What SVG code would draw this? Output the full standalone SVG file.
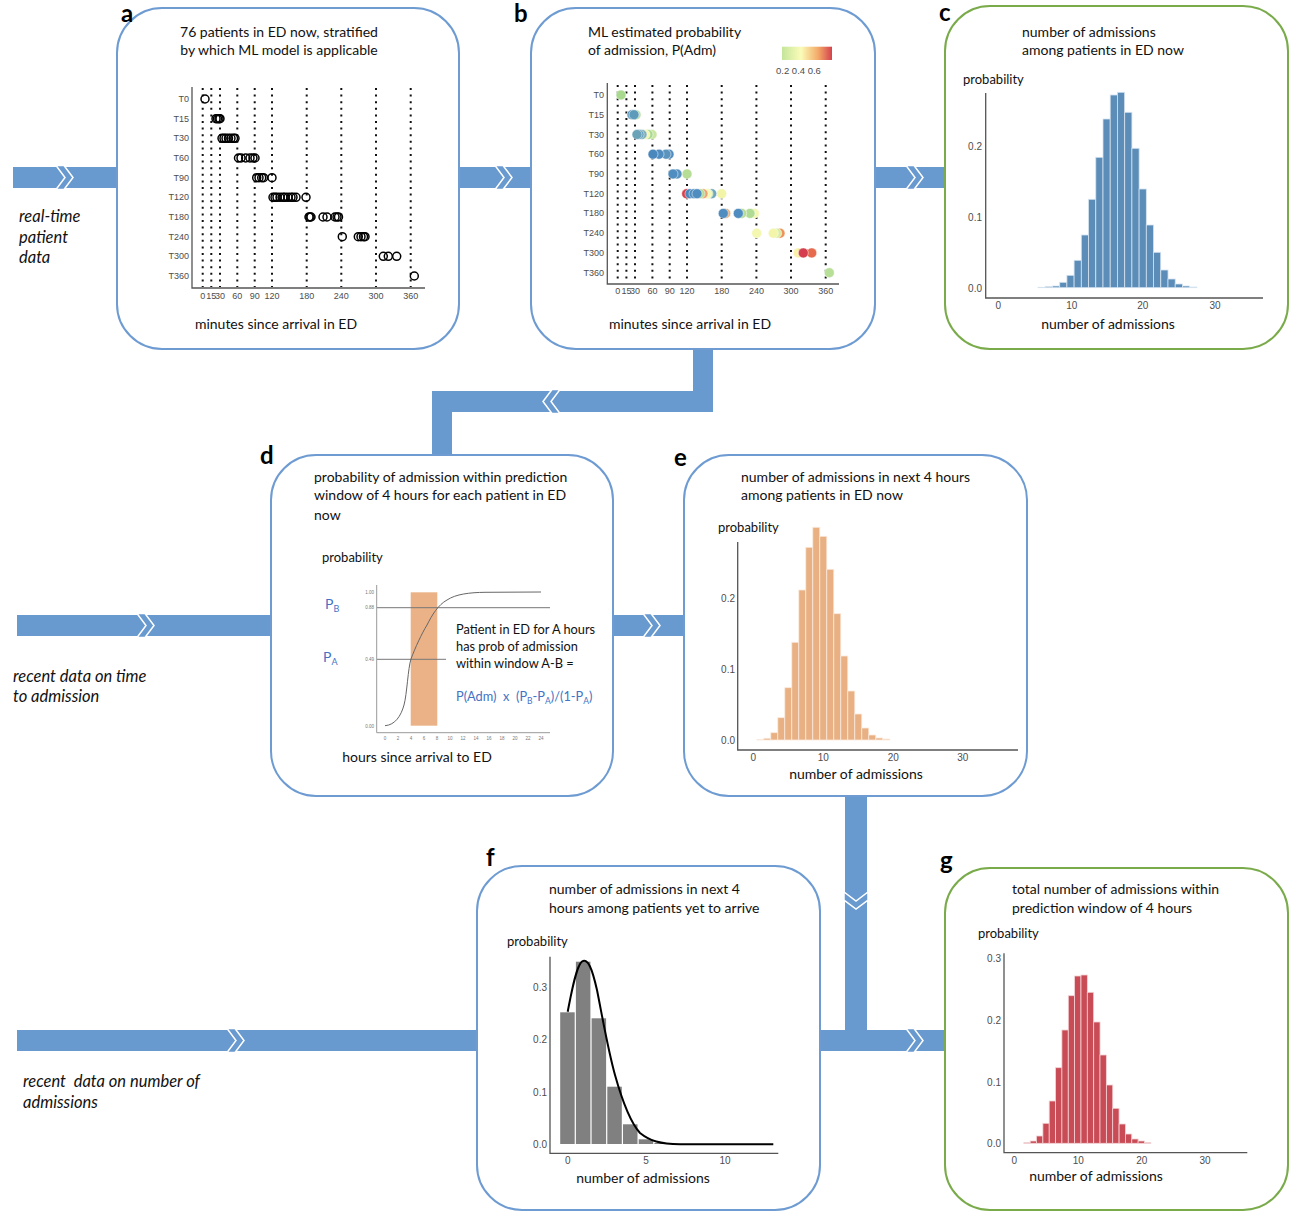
<svg xmlns="http://www.w3.org/2000/svg" xmlns:xlink="http://www.w3.org/1999/xlink" width="1308" height="1228" viewBox="0 0 1308 1228">
<style>
.panel{fill:#fff;stroke:#6d9bd2;stroke-width:2}
.pg{fill:#fff;stroke:#7aab4b;stroke-width:2}
.band{fill:#6899cf}
.chev{fill:#6899cf;stroke:#fff;stroke-width:1.5}
.t{font-family:Lato,"Liberation Sans",sans-serif;font-size:14px;fill:#111}
.p13{font-size:13px}
.f12{font-size:12.8px}
.it{font-family:Lato,"Liberation Sans",sans-serif;font-size:16.5px;font-style:italic;fill:#111}
.lbl{font-family:Lato,"Liberation Sans",sans-serif;font-size:24px;font-weight:bold;fill:#000}
.tk{font-family:"Liberation Sans",Arial,sans-serif;font-size:9px;fill:#4d4d4d}
.tk10{font-family:"Liberation Sans",Arial,sans-serif;font-size:10px;fill:#4d4d4d}
.tiny{font-family:"Liberation Sans",Arial,sans-serif;font-size:4.5px;fill:#777}
.ax{stroke:#555;stroke-width:1.3;fill:none}
.vd{stroke:#111;stroke-width:2;stroke-dasharray:2 4.6}
.oc{fill:none;stroke:#000;stroke-width:1.5}
.blue{fill:#4472c4}
.cb{fill:#5b8db8;stroke:#d5e3ef;stroke-width:0.8}
.eb{fill:#e8b083;stroke:#fbe9dc;stroke-width:0.8}
.gb{fill:#c84b55;stroke:#f3d3d6;stroke-width:0.8}
.fb{fill:#808080}
</style>
<defs>
<path id="chev" d="M-9,-12 L-1,-12 L8,0 L-1,12 L-9,12 L0,0 Z"/>
<linearGradient id="leg" x1="0" y1="0" x2="1" y2="0">
<stop offset="0" stop-color="#c4e59b"/>
<stop offset="0.38" stop-color="#fafcb8"/>
<stop offset="0.72" stop-color="#f4aa68"/>
<stop offset="1" stop-color="#d4424e"/>
</linearGradient>
</defs>

<g id="connectors">
<rect class="band" x="13" y="167" width="106" height="21"/>
<rect class="band" x="458" y="167" width="75" height="21"/>
<rect class="band" x="874" y="167" width="73" height="21"/>
<rect class="band" x="693" y="347" width="20" height="65"/>
<rect class="band" x="432" y="391" width="281" height="21"/>
<rect class="band" x="432" y="391" width="20" height="66"/>
<rect class="band" x="17" y="615" width="256" height="21"/>
<rect class="band" x="612" y="615" width="74" height="21"/>
<rect class="band" x="845" y="794" width="22" height="257"/>
<rect class="band" x="17" y="1030" width="462" height="21"/>
<rect class="band" x="818" y="1030" width="129" height="21"/>
<use xlink:href="#chev" class="chev" transform="translate(65,177.5)"/>
<use xlink:href="#chev" class="chev" transform="translate(504,177.5)"/>
<use xlink:href="#chev" class="chev" transform="translate(915,177.5)"/>
<use xlink:href="#chev" class="chev" transform="translate(551,401.5) rotate(180)"/>
<use xlink:href="#chev" class="chev" transform="translate(146,625.5)"/>
<use xlink:href="#chev" class="chev" transform="translate(652,625.5)"/>
<use xlink:href="#chev" class="chev" transform="translate(856,901) rotate(90)"/>
<use xlink:href="#chev" class="chev" transform="translate(236,1040.5)"/>
<use xlink:href="#chev" class="chev" transform="translate(915,1040.5)"/>
</g>

<g id="inputs">
<text class="it" x="19" y="222">real-time</text>
<text class="it" x="19" y="243">patient</text>
<text class="it" x="19" y="263">data</text>
<text class="it" x="13" y="682">recent data on time</text>
<text class="it" x="13" y="702">to admission</text>
<text class="it" x="23" y="1087" xml:space="preserve">recent  data on number of</text>
<text class="it" x="23" y="1108">admissions</text>
</g>

<!-- Panel a -->
<g id="panel-a">
<rect class="panel" x="117" y="8" width="342" height="341" rx="45"/>
<text class="lbl" x="121" y="22">a</text>
<text class="t" x="279" y="37" text-anchor="middle">76 patients in ED now, stratified</text>
<text class="t" x="279" y="55" text-anchor="middle">by which ML model is applicable</text>
<g>
<line class="vd" x1="202.7" y1="88" x2="202.7" y2="287"/>
<line class="vd" x1="211.3" y1="88" x2="211.3" y2="287"/>
<line class="vd" x1="220" y1="88" x2="220" y2="287"/>
<line class="vd" x1="237.3" y1="88" x2="237.3" y2="287"/>
<line class="vd" x1="254.7" y1="88" x2="254.7" y2="287"/>
<line class="vd" x1="272" y1="88" x2="272" y2="287"/>
<line class="vd" x1="306.7" y1="88" x2="306.7" y2="287"/>
<line class="vd" x1="341.3" y1="88" x2="341.3" y2="287"/>
<line class="vd" x1="376" y1="88" x2="376" y2="287"/>
<line class="vd" x1="410.7" y1="88" x2="410.7" y2="287"/>
</g>
<path class="ax" d="M192,87 V288 H425"/>
<g class="tk" text-anchor="end">
<text x="189" y="102">T0</text><text x="189" y="121.7">T15</text><text x="189" y="141.3">T30</text><text x="189" y="161">T60</text><text x="189" y="180.7">T90</text><text x="189" y="200.3">T120</text><text x="189" y="220">T180</text><text x="189" y="239.7">T240</text><text x="189" y="259.3">T300</text><text x="189" y="279">T360</text>
</g>
<g class="tk" text-anchor="middle">
<text x="202.7" y="298.5">0</text><text x="211.3" y="298.5">15</text><text x="220" y="298.5">30</text><text x="237.3" y="298.5">60</text><text x="254.7" y="298.5">90</text><text x="272" y="298.5">120</text><text x="306.7" y="298.5">180</text><text x="341.3" y="298.5">240</text><text x="376" y="298.5">300</text><text x="410.7" y="298.5">360</text>
</g>
<g class="oc">
<circle cx="205" cy="99" r="4"/>
<circle cx="216" cy="118.7" r="4"/><circle cx="217.5" cy="118.7" r="4"/><circle cx="219" cy="118.7" r="4"/><circle cx="220" cy="118.7" r="4"/>
<circle cx="222" cy="138.3" r="4"/><circle cx="224" cy="138.3" r="4"/><circle cx="226" cy="138.3" r="4"/><circle cx="228.5" cy="138.3" r="4"/><circle cx="231" cy="138.3" r="4"/><circle cx="233.5" cy="138.3" r="4"/><circle cx="235" cy="138.3" r="4"/>
<circle cx="238.5" cy="158" r="4"/><circle cx="241" cy="158" r="4"/><circle cx="245.7" cy="158" r="4"/><circle cx="250" cy="158" r="4"/><circle cx="253" cy="158" r="4"/><circle cx="255" cy="158" r="4"/>
<circle cx="256.7" cy="177.7" r="4"/><circle cx="259" cy="177.7" r="4"/><circle cx="261.7" cy="177.7" r="4"/><circle cx="263.5" cy="177.7" r="4"/><circle cx="272" cy="177.7" r="4"/>
<circle cx="273" cy="197.3" r="4"/><circle cx="275" cy="197.3" r="4"/><circle cx="277" cy="197.3" r="4"/><circle cx="280" cy="197.3" r="4"/><circle cx="283" cy="197.3" r="4"/><circle cx="285" cy="197.3" r="4"/><circle cx="288" cy="197.3" r="4"/><circle cx="291" cy="197.3" r="4"/><circle cx="293" cy="197.3" r="4"/><circle cx="296" cy="197.3" r="4"/><circle cx="306" cy="197.3" r="4"/>
<circle cx="309" cy="217" r="4"/><circle cx="310" cy="217" r="4"/><circle cx="311" cy="217" r="4"/><circle cx="323" cy="217" r="4"/><circle cx="327" cy="217" r="4"/><circle cx="335" cy="217" r="4"/><circle cx="337" cy="217" r="4"/><circle cx="338.5" cy="217" r="4"/>
<circle cx="342.3" cy="236.7" r="4"/><circle cx="358.3" cy="236.7" r="4"/><circle cx="361" cy="236.7" r="4"/><circle cx="363.5" cy="236.7" r="4"/><circle cx="365" cy="236.7" r="4"/>
<circle cx="383.3" cy="256.3" r="4"/><circle cx="388.3" cy="256.3" r="4"/><circle cx="396.7" cy="256.3" r="4"/>
<circle cx="414.3" cy="276" r="4"/>
</g>
<text class="t" x="276" y="329" text-anchor="middle">minutes since arrival in ED</text>
</g>

<!-- Panel b -->
<g id="panel-b">
<rect class="panel" x="531" y="8" width="344" height="341" rx="45"/>
<text class="lbl" x="514" y="22">b</text>
<text class="t" x="588" y="37">ML estimated probability</text>
<text class="t" x="588" y="55">of admission, P(Adm)</text>
<rect x="782" y="46.7" width="50" height="13.3" fill="url(#leg)"/>
<text class="tk" x="776" y="74" style="font-size:9.5px">0.2 0.4 0.6</text>
<g>
<line class="vd" x1="617.7" y1="85" x2="617.7" y2="283"/>
<line class="vd" x1="626.4" y1="85" x2="626.4" y2="283"/>
<line class="vd" x1="635" y1="85" x2="635" y2="283"/>
<line class="vd" x1="652.4" y1="85" x2="652.4" y2="283"/>
<line class="vd" x1="669.7" y1="85" x2="669.7" y2="283"/>
<line class="vd" x1="687" y1="85" x2="687" y2="283"/>
<line class="vd" x1="721.7" y1="85" x2="721.7" y2="283"/>
<line class="vd" x1="756.4" y1="85" x2="756.4" y2="283"/>
<line class="vd" x1="791" y1="85" x2="791" y2="283"/>
<line class="vd" x1="825.7" y1="85" x2="825.7" y2="283"/>
</g>
<path class="ax" d="M607.3,83 V284 H839"/>
<g class="tk" text-anchor="end">
<text x="604" y="98">T0</text><text x="604" y="117.7">T15</text><text x="604" y="137.5">T30</text><text x="604" y="157.2">T60</text><text x="604" y="177">T90</text><text x="604" y="196.7">T120</text><text x="604" y="216.4">T180</text><text x="604" y="236.2">T240</text><text x="604" y="255.9">T300</text><text x="604" y="275.7">T360</text>
</g>
<g class="tk" text-anchor="middle">
<text x="617.7" y="293.5">0</text><text x="626.4" y="293.5">15</text><text x="635" y="293.5">30</text><text x="652.4" y="293.5">60</text><text x="669.7" y="293.5">90</text><text x="687" y="293.5">120</text><text x="721.7" y="293.5">180</text><text x="756.4" y="293.5">240</text><text x="791" y="293.5">300</text><text x="825.7" y="293.5">360</text>
</g>
<g stroke="#fff" stroke-width="0.5">
<circle cx="621" cy="95" r="5" fill="#a9d98f"/>
<circle cx="636" cy="114.7" r="5" fill="#b8dfa0"/><circle cx="632" cy="114.7" r="5" fill="#5b97bb"/><circle cx="634" cy="114.7" r="5" fill="#5e9bbb"/>
<circle cx="652" cy="134.5" r="5" fill="#c8e6a0"/><circle cx="648" cy="134.5" r="5" fill="#a9d98f"/><circle cx="645" cy="134.5" r="5" fill="#f4f7b0"/><circle cx="642" cy="134.5" r="5" fill="#7fb0b9"/><circle cx="639" cy="134.5" r="5" fill="#5f9bbb"/><circle cx="637" cy="134.5" r="5" fill="#6aa3b8"/>
<circle cx="669" cy="154.2" r="5" fill="#4f8cbf"/><circle cx="666" cy="154.2" r="5" fill="#5b95bd"/><circle cx="659" cy="154.2" r="5" fill="#4f8cbf"/><circle cx="653" cy="154.2" r="5" fill="#4a87bd"/>
<circle cx="687" cy="174" r="5" fill="#b5dd95"/><circle cx="677" cy="174" r="5" fill="#5590bf"/><circle cx="673" cy="174" r="5" fill="#4f8cbf"/>
<circle cx="721.7" cy="193.7" r="5" fill="#f2f5a8"/><circle cx="711.7" cy="193.7" r="5" fill="#6fa7bd"/><circle cx="708" cy="193.7" r="5" fill="#c9e6a5"/><circle cx="706.7" cy="193.7" r="5" fill="#f8f8b5"/><circle cx="703" cy="193.7" r="5" fill="#f0a070"/><circle cx="700" cy="193.7" r="5" fill="#b4dc95"/><circle cx="686.7" cy="193.7" r="5" fill="#d7404c"/><circle cx="690" cy="193.7" r="5" fill="#4a87bd"/><circle cx="694" cy="193.7" r="5" fill="#4f8cbf"/><circle cx="697" cy="193.7" r="5" fill="#4f8cbf"/>
<circle cx="754.3" cy="213.4" r="5" fill="#f4f7b0"/><circle cx="750" cy="213.4" r="5" fill="#b0db92"/><circle cx="741.7" cy="213.4" r="5" fill="#b7dd98"/><circle cx="738.3" cy="213.4" r="5" fill="#4f8cbf"/><circle cx="725.7" cy="213.4" r="5" fill="#e9b07a"/><circle cx="723.3" cy="213.4" r="5" fill="#4f8cbf"/>
<circle cx="780" cy="233.2" r="5" fill="#ef9157"/><circle cx="776.7" cy="233.2" r="5" fill="#d9eca5"/><circle cx="773.3" cy="233.2" r="5" fill="#f2f5aa"/><circle cx="756.7" cy="233.2" r="5" fill="#f3f7b0"/>
<circle cx="811.7" cy="252.9" r="5" fill="#e66a4d"/><circle cx="798.3" cy="252.9" r="5" fill="#f8f3a8"/><circle cx="803.3" cy="252.9" r="5" fill="#d53e4f"/>
<circle cx="829.3" cy="272.7" r="5" fill="#b8df98"/>
</g>
<text class="t" x="690" y="329" text-anchor="middle">minutes since arrival in ED</text>
</g>

<!-- Panel c -->
<g id="panel-c">
<rect class="pg" x="945" y="6" width="343" height="343" rx="45"/>
<text class="lbl" x="939" y="21">c</text>
<text class="t" x="1022" y="37">number of admissions</text>
<text class="t" x="1022" y="55">among patients in ED now</text>
<text class="t p13" x="963" y="84">probability</text>
<g>
<rect class="cb" x="1038.0" y="287.3" width="7.22" height="0.4"/>
<rect class="cb" x="1045.2" y="286.7" width="7.22" height="1"/>
<rect class="cb" x="1052.4" y="286" width="7.22" height="1.7"/>
<rect class="cb" x="1059.7" y="282.3" width="7.22" height="5.4"/>
<rect class="cb" x="1066.9" y="275.3" width="7.22" height="12.4"/>
<rect class="cb" x="1074.1" y="260.3" width="7.22" height="27.4"/>
<rect class="cb" x="1081.3" y="235" width="7.22" height="52.7"/>
<rect class="cb" x="1088.5" y="199.3" width="7.22" height="88.4"/>
<rect class="cb" x="1095.8" y="157.3" width="7.22" height="130.4"/>
<rect class="cb" x="1103.0" y="119" width="7.22" height="168.7"/>
<rect class="cb" x="1110.2" y="95" width="7.22" height="192.7"/>
<rect class="cb" x="1117.4" y="92.3" width="7.22" height="195.4"/>
<rect class="cb" x="1124.7" y="112.3" width="7.22" height="175.4"/>
<rect class="cb" x="1131.9" y="148.3" width="7.22" height="139.4"/>
<rect class="cb" x="1139.1" y="189" width="7.22" height="98.7"/>
<rect class="cb" x="1146.3" y="225" width="7.22" height="62.7"/>
<rect class="cb" x="1153.5" y="252.3" width="7.22" height="35.4"/>
<rect class="cb" x="1160.8" y="270" width="7.22" height="17.7"/>
<rect class="cb" x="1168.0" y="279" width="7.22" height="8.7"/>
<rect class="cb" x="1175.2" y="284" width="7.22" height="3.7"/>
<rect class="cb" x="1182.4" y="286" width="7.22" height="1.7"/>
<rect class="cb" x="1189.6" y="287" width="7.22" height="0.7"/>
</g>
<path class="ax" d="M985.7,93 V298 H1263"/>
<g class="tk10" text-anchor="end">
<text x="982" y="150">0.2</text><text x="982" y="220.5">0.1</text><text x="982" y="291.5">0.0</text>
</g>
<g class="tk10" text-anchor="middle">
<text x="998.3" y="309">0</text><text x="1071.7" y="309">10</text><text x="1142.7" y="309">20</text><text x="1215" y="309">30</text>
</g>
<text class="t" x="1108" y="329" text-anchor="middle">number of admissions</text>
</g>

<!-- Panel d -->
<g id="panel-d">
<rect class="panel" x="271" y="455" width="342" height="341" rx="45"/>
<text class="lbl" x="260" y="464">d</text>
<text class="t" x="314" y="482">probability of admission within prediction</text>
<text class="t" x="314" y="500">window of 4 hours for each patient in ED</text>
<text class="t" x="314" y="520">now</text>
<text class="t p13" x="322" y="562">probability</text>
<rect x="410.7" y="592.3" width="26.6" height="133.4" fill="#ebb288"/>
<path d="M377,607.7 H550 M377,659.3 H446" stroke="#777" stroke-width="1" fill="none"/>
<path d="M385,725.7 C395,725 401,716 404,705 C407,694 408,668 411,659 C415,648 422,633 427,625 C432,615 438,605 447,600 C456,594 470,592.5 485,592.3 L541,592" stroke="#666" stroke-width="1" fill="none"/>
<path d="M376.7,585 V732.7 H550" stroke="#999" stroke-width="1" fill="none"/>
<g class="tiny" text-anchor="end">
<text x="374" y="594">1.00</text><text x="374" y="609.3">0.88</text><text x="374" y="661">0.49</text><text x="374" y="727.5">0.00</text>
</g>
<g class="tiny" text-anchor="middle">
<text x="385" y="740">0</text><text x="398" y="740">2</text><text x="411" y="740">4</text><text x="424" y="740">6</text><text x="437" y="740">8</text><text x="450" y="740">10</text><text x="463" y="740">12</text><text x="476" y="740">14</text><text x="489" y="740">16</text><text x="502" y="740">18</text><text x="515" y="740">20</text><text x="528" y="740">22</text><text x="541" y="740">24</text>
</g>
<text class="t blue" x="325" y="609">P<tspan style="font-size:9px" dy="3">B</tspan></text>
<text class="t blue" x="323" y="662">P<tspan style="font-size:9px" dy="3">A</tspan></text>
<text class="t f12" x="456" y="634">Patient in ED for A hours</text>
<text class="t f12" x="456" y="651">has prob of admission</text>
<text class="t f12" x="456" y="668">within window A-B =</text>
<text class="t f12 blue" x="456" y="701" xml:space="preserve">P(Adm)  x  (P<tspan style="font-size:8.5px" dy="3">B</tspan><tspan dy="-3">-P</tspan><tspan style="font-size:8.5px" dy="3">A</tspan><tspan dy="-3">)/(1-P</tspan><tspan style="font-size:8.5px" dy="3">A</tspan><tspan dy="-3">)</tspan></text>
<text class="t" x="417" y="762" text-anchor="middle">hours since arrival to ED</text>
</g>

<!-- Panel e -->
<g id="panel-e">
<rect class="panel" x="684" y="455" width="343" height="341" rx="45"/>
<text class="lbl" x="674" y="466">e</text>
<text class="t" x="741" y="482">number of admissions in next 4 hours</text>
<text class="t" x="741" y="500">among patients in ED now</text>
<text class="t p13" x="718" y="532">probability</text>
<g>
<rect class="eb" x="756.8" y="739.7" width="7" height="0.3"/>
<rect class="eb" x="763.8" y="738.3" width="7" height="1.7"/>
<rect class="eb" x="770.8" y="732.7" width="7" height="7.3"/>
<rect class="eb" x="777.8" y="717.7" width="7" height="22.3"/>
<rect class="eb" x="784.8" y="687.7" width="7" height="52.3"/>
<rect class="eb" x="791.8" y="642.3" width="7" height="97.7"/>
<rect class="eb" x="798.8" y="590" width="7" height="150"/>
<rect class="eb" x="805.8" y="547.3" width="7" height="192.7"/>
<rect class="eb" x="812.8" y="527.3" width="7" height="212.7"/>
<rect class="eb" x="819.8" y="536.3" width="7" height="203.7"/>
<rect class="eb" x="826.8" y="569.3" width="7" height="170.7"/>
<rect class="eb" x="833.8" y="613.7" width="7" height="126.3"/>
<rect class="eb" x="840.8" y="656" width="7" height="84"/>
<rect class="eb" x="847.8" y="691" width="7" height="49"/>
<rect class="eb" x="854.8" y="714" width="7" height="26"/>
<rect class="eb" x="861.8" y="728" width="7" height="12"/>
<rect class="eb" x="868.8" y="735" width="7" height="5"/>
<rect class="eb" x="875.8" y="738" width="7" height="2"/>
<rect class="eb" x="882.8" y="739" width="7" height="1"/>
</g>
<path class="ax" d="M737.7,542 V750 H1018"/>
<g class="tk10" text-anchor="end">
<text x="735" y="602">0.2</text><text x="735" y="672.5">0.1</text><text x="735" y="743.5">0.0</text>
</g>
<g class="tk10" text-anchor="middle">
<text x="753.3" y="761">0</text><text x="823.3" y="761">10</text><text x="893.3" y="761">20</text><text x="962.7" y="761">30</text>
</g>
<text class="t" x="856" y="779" text-anchor="middle">number of admissions</text>
</g>

<!-- Panel f -->
<g id="panel-f">
<rect class="panel" x="477" y="866" width="343" height="344" rx="45"/>
<text class="lbl" x="486" y="866">f</text>
<text class="t" x="549" y="894">number of admissions in next 4</text>
<text class="t" x="549" y="913">hours among patients yet to arrive</text>
<text class="t p13" x="507" y="946">probability</text>
<g>
<rect class="fb" x="560.2" y="1012.3" width="14.5" height="131.7"/>
<rect class="fb" x="575.9" y="961.7" width="14.5" height="182.3"/>
<rect class="fb" x="591.6" y="1018.3" width="14.5" height="125.7"/>
<rect class="fb" x="607.3" y="1086.7" width="14.5" height="57.3"/>
<rect class="fb" x="623" y="1124.3" width="14.5" height="19.7"/>
<rect class="fb" x="638.7" y="1139.3" width="14.5" height="4.7"/>
<rect class="fb" x="654.4" y="1143" width="14.5" height="1"/>
</g>
<path d="M567.7,1011.7 C571,995 576,966 582,961.5 C588,958 592,968 597,990 C602,1015 608,1050 615,1075 C622,1100 630,1122 640,1133 C650,1141 660,1144 680,1144.3 L773.3,1144.3" stroke="#000" stroke-width="2" fill="none"/>
<path class="ax" d="M550,956.7 V1153.3 H778.3"/>
<g class="tk10" text-anchor="end">
<text x="547" y="991">0.3</text><text x="547" y="1043">0.2</text><text x="547" y="1095.5">0.1</text><text x="547" y="1147.5">0.0</text>
</g>
<g class="tk10" text-anchor="middle">
<text x="567.7" y="1164">0</text><text x="646" y="1164">5</text><text x="725" y="1164">10</text>
</g>
<text class="t" x="643" y="1183" text-anchor="middle">number of admissions</text>
</g>

<!-- Panel g -->
<g id="panel-g">
<rect class="pg" x="945" y="868" width="343" height="342" rx="45"/>
<text class="lbl" x="940" y="869">g</text>
<text class="t" x="1012" y="894">total number of admissions within</text>
<text class="t" x="1012" y="913">prediction window of 4 hours</text>
<text class="t p13" x="978" y="938">probability</text>
<g>
<rect class="gb" x="1023.8" y="1142.7" width="6.35" height="0.6"/>
<rect class="gb" x="1030.2" y="1141" width="6.35" height="2.3"/>
<rect class="gb" x="1036.5" y="1136" width="6.35" height="7.3"/>
<rect class="gb" x="1042.9" y="1123.3" width="6.35" height="20"/>
<rect class="gb" x="1049.2" y="1101" width="6.35" height="42.3"/>
<rect class="gb" x="1055.6" y="1067.7" width="6.35" height="75.6"/>
<rect class="gb" x="1061.9" y="1030" width="6.35" height="113.3"/>
<rect class="gb" x="1068.3" y="995.7" width="6.35" height="147.6"/>
<rect class="gb" x="1074.6" y="976" width="6.35" height="167.3"/>
<rect class="gb" x="1081.0" y="975" width="6.35" height="168.3"/>
<rect class="gb" x="1087.3" y="992.3" width="6.35" height="151"/>
<rect class="gb" x="1093.7" y="1022" width="6.35" height="121.3"/>
<rect class="gb" x="1100.0" y="1055" width="6.35" height="88.3"/>
<rect class="gb" x="1106.4" y="1085" width="6.35" height="58.3"/>
<rect class="gb" x="1112.7" y="1108.3" width="6.35" height="35"/>
<rect class="gb" x="1119.1" y="1124" width="6.35" height="19.3"/>
<rect class="gb" x="1125.4" y="1134" width="6.35" height="9.3"/>
<rect class="gb" x="1131.8" y="1139" width="6.35" height="4.3"/>
<rect class="gb" x="1138.1" y="1141" width="6.35" height="2.3"/>
<rect class="gb" x="1144.5" y="1142.7" width="6.35" height="0.6"/>
</g>
<path class="ax" d="M1004,953.3 V1152.7 H1247.3"/>
<g class="tk10" text-anchor="end">
<text x="1001" y="962">0.3</text><text x="1001" y="1023.5">0.2</text><text x="1001" y="1086">0.1</text><text x="1001" y="1147">0.0</text>
</g>
<g class="tk10" text-anchor="middle">
<text x="1014.3" y="1164">0</text><text x="1078.3" y="1164">10</text><text x="1141.7" y="1164">20</text><text x="1205" y="1164">30</text>
</g>
<text class="t" x="1096" y="1181" text-anchor="middle">number of admissions</text>
</g>
</svg>
